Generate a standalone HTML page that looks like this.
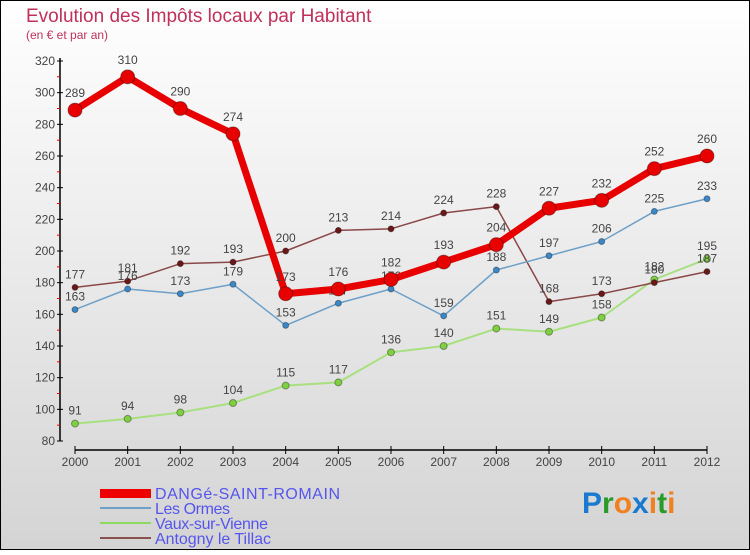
<!DOCTYPE html>
<html><head><meta charset="utf-8"><style>
body{margin:0;width:750px;height:550px;overflow:hidden;font-family:"Liberation Sans",sans-serif}
</style></head><body>
<svg id="c" width="750" height="550" xmlns="http://www.w3.org/2000/svg">
<defs><linearGradient id="bg" x1="0" y1="0" x2="0" y2="1"><stop offset="0" stop-color="#ffffff"/><stop offset="1" stop-color="#d4d4d4"/></linearGradient></defs>
<rect x="0.5" y="0.5" width="749" height="549" fill="url(#bg)" stroke="#000"/>
<text x="26" y="22" font-size="19" fill="#c0305a">Evolution des Impôts locaux par Habitant</text>
<text x="26" y="39" font-size="12" fill="#c0305a">(en € et par an)</text>
<g id="axes"></g><g id="series"></g>
<g>
<rect x="100" y="489" width="51" height="9" fill="#e00"/>
<text x="155" y="499" font-size="16" fill="#5555ee" textLength="185">DANGé-SAINT-ROMAIN</text>
<rect x="100" y="507" width="51" height="2" fill="#6ea0c8"/>
<text x="155" y="514" font-size="16" fill="#5555ee" textLength="75">Les Ormes</text>
<rect x="100" y="522" width="51" height="2" fill="#8ed860"/>
<text x="155" y="529" font-size="16" fill="#5555ee" textLength="113">Vaux-sur-Vienne</text>
<rect x="100" y="537" width="51" height="2" fill="#8a5050"/>
<text x="155" y="544" font-size="16" fill="#5555ee" textLength="116">Antogny le Tillac</text>
</g>
<text x="582" y="513" font-size="30" font-weight="bold"><tspan fill="#1a7ad0">P</tspan><tspan fill="#2a9a2a">r</tspan><tspan fill="#f08020">o</tspan><tspan fill="#1a7ad0">x</tspan><tspan fill="#f08020">i</tspan><tspan fill="#2a9a2a">t</tspan><tspan fill="#f08020">i</tspan></text>
</svg>
<script>
const years=[2000,2001,2002,2003,2004,2005,2006,2007,2008,2009,2010,2011,2012];
const yTicks=[80,100,120,140,160,180,200,220,240,260,280,300,320];
const dange=[289,310,290,274,173,176,182,193,204,227,232,252,260];
const ormes=[163,176,173,179,153,167,176,159,188,197,206,225,233];
const vaux=[91,94,98,104,115,117,136,140,151,149,158,182,195];
const antogny=[177,181,192,193,200,213,214,224,228,168,173,180,187];
const NS="http://www.w3.org/2000/svg";
const X=i=>75+i*(707-75)/(years.length-1);
const Y=v=>441-(v-80)*(380/240);
function mk(p,t,a){const e=document.createElementNS(NS,t);for(const k in a)e.setAttribute(k,a[k]);p.appendChild(e);return e;}
const ax=document.getElementById('axes');
const yl=mk(ax,'line',{x1:60,y1:58,x2:60,y2:441,stroke:'#000','stroke-width':1.5});


const xl=mk(ax,'line',{x1:75,y1:450,x2:707,y2:450,stroke:'#000','stroke-width':1.5});


yTicks.forEach((v,i)=>{
 mk(ax,'line',{x1:57,y1:Y(v),x2:63,y2:Y(v),stroke:'#000'});
 if(i<yTicks.length-1)mk(ax,'line',{x1:57,y1:Y(v+10),x2:60,y2:Y(v+10),stroke:'#e00'});
 const t=mk(ax,'text',{x:55,y:Y(v)+4,'font-size':12,fill:'#444','text-anchor':'end'});t.textContent=v;
 
 
});
years.forEach((y,i)=>{
 mk(ax,'line',{x1:X(i),y1:446,x2:X(i),y2:454,stroke:'#000'});
 const t=mk(ax,'text',{x:X(i),y:466,'font-size':12,fill:'#444','text-anchor':'middle'});t.textContent=y;
 
 
});
const sg=document.getElementById('series');
function draw(name,data,color,w,r,dot,lblOff){
 const g=mk(sg,'g',{});
 
 
 mk(g,'polyline',{points:data.map((v,i)=>X(i)+','+Y(v)).join(' '),fill:'none',stroke:color,'stroke-width':w,'stroke-linejoin':'round'});
 data.forEach((v,i)=>{
  const c=mk(g,'circle',{cx:X(i),cy:Y(v),r:r,fill:dot,stroke:'rgba(0,0,0,0.35)','stroke-width':1});
  
  
  const t=mk(g,'text',{x:X(i),y:Y(v)-lblOff,'font-size':12,fill:'#444','text-anchor':'middle'});t.textContent=v;
  
  
 });
}
draw('vaux',vaux,'#a8e080',2,3.5,'#7ed040',9);
draw('antogny',antogny,'#8a4848',1.5,3,'#6a1818',9);
draw('ormes',ormes,'#6ea0c8',1.5,3,'#3a88c8',9);
draw('dange',dange,'#e80000',7,7,'#e80000',13);
</script>
</body></html>
